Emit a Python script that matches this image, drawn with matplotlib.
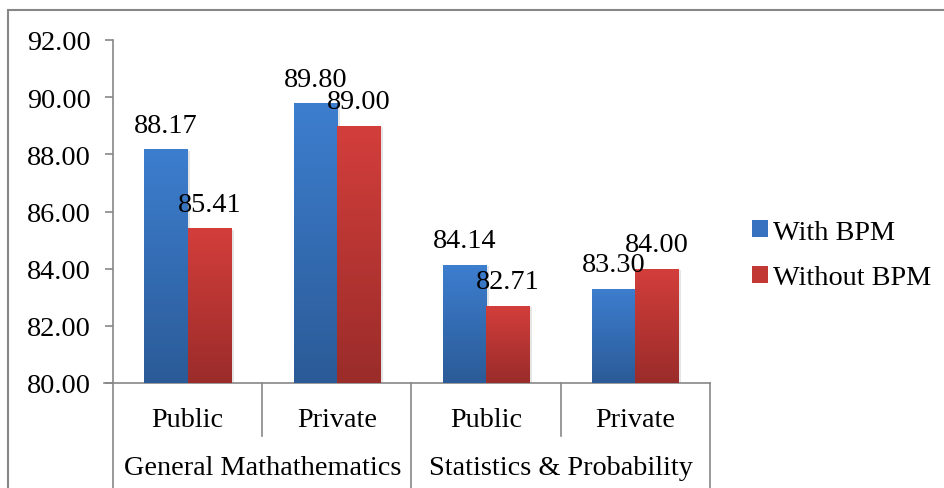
import numpy as np
import matplotlib
matplotlib.use("Agg")
import matplotlib.pyplot as plt
from matplotlib.colors import LinearSegmentedColormap
from matplotlib.patches import Patch, Rectangle
import matplotlib.patheffects as pe

plt.rcParams["font.family"] = ["Liberation Serif", "DejaVu Serif"]

# Data
subjects = ["General Mathathematics", "Statistics & Probability"]
schools = ["Public", "Private", "Public", "Private"]
series_names = ["With BPM", "Without BPM"]
with_bpm = [88.17, 89.80, 84.14, 83.30]
without_bpm = [85.41, 89.00, 82.71, 84.00]
y_ticks = [80, 82, 84, 86, 88, 90, 92]

# Gradient colours (top, bottom) per series
grad_colors = [("#3d7ecf", "#2b5b97"), ("#d33e3b", "#9a2c2a")]
legend_colors = ["#3672bf", "#c13835"]
FS = 20.3

fig = plt.figure(figsize=(9.45, 4.89), dpi=100)
ax = fig.add_axes([113 / 945, 1 - 384 / 489, (710 - 113) / 945, (384 - 41) / 489])

x = np.arange(len(schools))
width = 0.29

gradient = np.linspace(1, 0, 256).reshape(-1, 1)
for s, (vals, (top, bot)) in enumerate(zip([with_bpm, without_bpm], grad_colors)):
    cmap = LinearSegmentedColormap.from_list(f"g{s}", [bot, top])
    bars = ax.bar(x + (s - 0.5) * width, np.array(vals) - y_ticks[0], width=width,
                  bottom=y_ticks[0], color=top, zorder=2)
    for b, v in zip(bars, vals):
        b.set_path_effects([pe.SimplePatchShadow(offset=(2, -1), shadow_rgbFace="#999999", alpha=0.25),
                            pe.Normal()])
        x0, y0 = b.get_x(), b.get_y()
        im = ax.imshow(gradient, cmap=cmap, aspect="auto", interpolation="bicubic",
                       extent=(x0, x0 + b.get_width(), y0, y0 + b.get_height()), zorder=3)
        im.set_clip_path(b)
        ax.annotate(f"{v:.2f}", (x0 + b.get_width() / 2, v), xytext=(0, 12.5),
                    textcoords="offset points", ha="center", va="baseline",
                    fontsize=FS, color="black", zorder=5)

ax.set_xlim(-0.5, len(schools) - 0.5)
ax.set_ylim(y_ticks[0], y_ticks[-1])
ax.set_aspect("auto")

# Axes styling
for side in ["top", "right"]:
    ax.spines[side].set_visible(False)
for side in ["left", "bottom"]:
    ax.spines[side].set_color("#878787")
    ax.spines[side].set_linewidth(1.2)
ax.set_yticks(y_ticks)
ax.set_yticklabels([f"{t:.2f}" for t in y_ticks])
ax.tick_params(axis="y", length=6, width=1.2, color="#878787", pad=10, labelsize=FS)
ax.set_xticks([])

# Two-level category axis
xt = ax.get_xaxis_transform()
bounds = np.arange(len(schools) + 1) - 0.5
for i, bx in enumerate(bounds):
    y_end = -0.306 if i % 2 == 0 else -0.155
    ax.plot([bx, bx], [0, y_end], transform=xt, color="#878787", lw=1.2, clip_on=False)
ax.plot([-0.5 - 0.06, -0.5], [0, 0], transform=xt, color="#878787", lw=1.2, clip_on=False)
for xi, lab in zip(x, schools):
    ax.text(xi, -0.107, lab, transform=xt, ha="center", va="center", fontsize=FS)
for gi, lab in enumerate(subjects):
    ax.text(gi * 2 + 0.5, -0.246, lab, transform=xt, ha="center", va="center", fontsize=FS)

# Legend
handles = [Patch(facecolor=c, edgecolor="none") for c in legend_colors]
fig.legend(handles, series_names, loc="center left", bbox_to_anchor=(752 / 945, 1 - 256 / 489),
           frameon=False, fontsize=FS, handlelength=0.55, handleheight=0.55,
           handletextpad=0.2, labelspacing=0.72, borderpad=0, borderaxespad=0)

# Chart-area border
fig.add_artist(Rectangle((8 / 945, -0.1), 1.2, 1 - 11 / 489 + 0.1, transform=fig.transFigure,
                         fill=False, edgecolor="#878787", lw=1.5))

fig.savefig("out.png", dpi=100)
